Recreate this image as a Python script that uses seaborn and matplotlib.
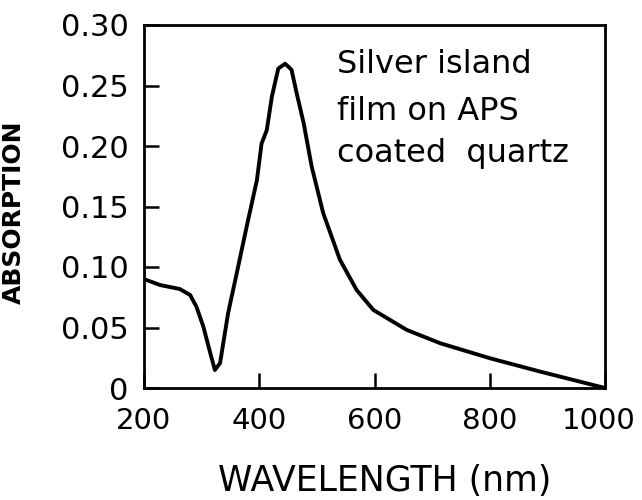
import matplotlib
matplotlib.use("Agg")
import matplotlib.pyplot as plt
import matplotlib.transforms as mtransforms
import seaborn as sns
import pandas as pd

# Data
wavelength = [200, 228, 262, 280, 291, 303, 315, 323, 332, 346, 361, 378, 396, 404,
              413, 422, 433, 445, 456, 465, 477, 491, 511, 540, 569, 598, 656, 714,
              801, 888, 1000]
absorption = [0.090, 0.0851, 0.0818, 0.0769, 0.0672, 0.0507, 0.0289, 0.0149, 0.0206,
              0.062, 0.095, 0.133, 0.172, 0.202, 0.213, 0.241, 0.264, 0.268, 0.263,
              0.2435, 0.219, 0.183, 0.1445, 0.106, 0.081, 0.0645, 0.048, 0.037,
              0.0245, 0.0135, 0.0]
x_ticks = [200, 400, 600, 800, 1000]
x_tick_labels = ["200", "400", "600", "800", "1000"]
y_ticks = [0, 0.05, 0.10, 0.15, 0.20, 0.25, 0.30]
y_tick_labels = ["0", "0.05", "0.10", "0.15", "0.20", "0.25", "0.30"]
annotation_lines = ["Silver island", "film on APS", "coated  quartz"]
x_label = "WAVELENGTH (nm)"
y_label = "ABSORPTION"

sns.set_style("ticks")
plt.rcParams['font.family'] = ['DejaVu Sans']
plt.rcParams['text.color'] = 'black'
plt.rcParams['xtick.color'] = 'black'
plt.rcParams['ytick.color'] = 'black'
plt.rcParams['xtick.labelcolor'] = 'black'
plt.rcParams['ytick.labelcolor'] = 'black'

df = pd.DataFrame({"wavelength": wavelength, "absorption": absorption})

fig = plt.figure(figsize=(6.42, 5.00), dpi=100)
ax = fig.add_axes([144/642, 1 - 388/500, (605-144)/642, (388-25)/500])
sns.lineplot(data=df, x="wavelength", y="absorption", ax=ax, color="black",
             linewidth=2.8, estimator=None, sort=False)
for l in ax.get_lines():
    l.set_solid_joinstyle("round")
    l.set_solid_capstyle("round")

ax.set_xlim(200, 1000)
ax.set_ylim(0, 0.30)
ax.set_xticks(x_ticks)
ax.set_xticklabels(x_tick_labels, fontsize=21)
ax.set_yticks(y_ticks)
ax.set_yticklabels(y_tick_labels, fontsize=22)
ax.tick_params(direction="in", length=11, width=1.8, color="black")
ax.tick_params(axis="x", pad=14)
ax.tick_params(axis="y", pad=11)
for s in ax.spines.values():
    s.set_linewidth(2.0)
    s.set_color("black")
ax.set_xlabel("")
ax.set_ylabel("")

# nudge the last x tick label so it stays inside the figure
last = ax.get_xticklabels()[-1]
last.set_transform(last.get_transform() +
                   mtransforms.ScaledTranslation(-6/100, 0, fig.dpi_scale_trans))

fig.text(385/642, 1 - 491/500, x_label, ha="center", va="baseline", fontsize=25,
         color="black")
fig.text(26/642, 1 - 212/500, y_label, rotation=90, ha="right", va="center",
         fontsize=18, fontweight="bold", color="black")

baselines = [73, 120, 162]
for txt, b in zip(annotation_lines, baselines):
    fig.text(337/642, 1 - b/500, txt, ha="left", va="baseline", fontsize=23,
             color="black")

fig.savefig("out.png", dpi=100)
